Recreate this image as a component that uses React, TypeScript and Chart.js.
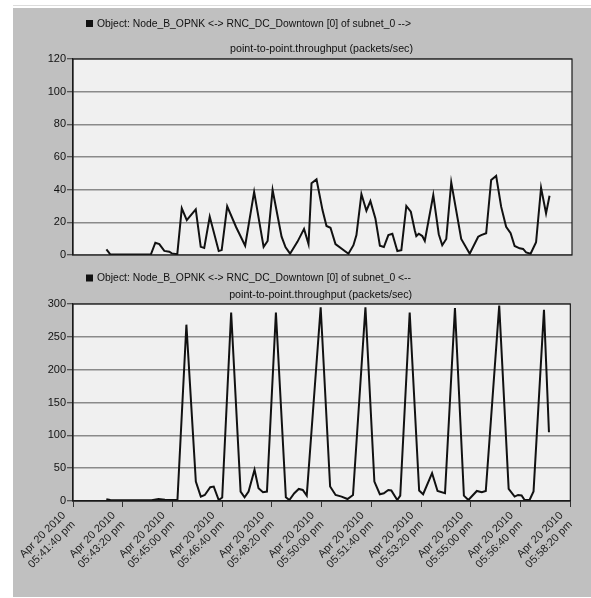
import React, { useEffect, useRef } from "react";
import { Chart, registerables } from "chart.js";

Chart.register(...registerables);

// Seconds elapsed since Apr 20 2010 05:41:40 pm
const xTickSeconds = [0, 100, 200, 300, 400, 500, 600, 700, 800, 900, 1000];
const xTickLabels = [
  ["Apr 20 2010", "05:41:40 pm"],
  ["Apr 20 2010", "05:43:20 pm"],
  ["Apr 20 2010", "05:45:00 pm"],
  ["Apr 20 2010", "05:46:40 pm"],
  ["Apr 20 2010", "05:48:20 pm"],
  ["Apr 20 2010", "05:50:00 pm"],
  ["Apr 20 2010", "05:51:40 pm"],
  ["Apr 20 2010", "05:53:20 pm"],
  ["Apr 20 2010", "05:55:00 pm"],
  ["Apr 20 2010", "05:56:40 pm"],
  ["Apr 20 2010", "05:58:20 pm"],
];

const topTicks = [0, 20, 40, 60, 80, 100, 120];
const bottomTicks = [0, 50, 100, 150, 200, 250, 300];

const topTitle1 = "Object: Node_B_OPNK <-> RNC_DC_Downtown [0] of subnet_0 -->";
const bottomTitle1 = "Object: Node_B_OPNK <-> RNC_DC_Downtown [0] of subnet_0 <--";
const statTitle = "point-to-point.throughput (packets/sec)";

// upstream (-->) series
const topTimes = [
  67, 75, 156, 165, 173, 183, 193, 198, 209, 218, 228, 246, 256, 263, 274, 292, 298, 309, 327,
  345, 363, 382, 390, 400, 418, 426, 435, 450, 463, 472, 478, 488, 500, 508, 516, 526, 552,
  562, 568, 578, 588, 596, 606, 615, 623, 632, 640, 650, 658, 668, 677, 685, 688, 693, 700,
  705, 722, 733, 740, 748, 758, 778, 795, 812, 818, 828, 838, 848, 858, 868, 877, 885, 895,
  902, 908, 917, 928, 938, 948, 955,
];
const topValues = [
  3.5, 0.3, 0.3, 7.5, 6.7, 2.5, 2, 1, 0.5, 28.6, 21.4, 28, 5, 4.3, 23.5, 2.4, 3, 29.8, 17,
  5.7, 38.6, 5, 8.6, 39.8, 11.2, 4.7, 0.8, 8.2, 16, 6.7, 43.9, 46.3, 27.5, 17.8, 16.7, 6.7, 0.8,
  6, 12.2, 37.3, 27.1, 33, 22.4, 5.7, 4.9, 12.2, 13, 2.4, 3, 30, 26.5, 15, 11.6, 13, 11.6,
  8.6, 36.7, 12.7, 6, 9.8, 44.5, 9.8, 0.8, 11.2, 12.2, 13.3, 45.9, 48.4, 29.6, 17.3, 13.3, 5.5, 4.1,
  3.7, 1.6, 0.8, 7.8, 41.2, 25.5, 36.3,
];

// downstream (<--) series
const bottomTimes = [
  67, 75, 158, 172, 185, 210, 228, 247, 257, 265, 276, 283, 293, 300, 318, 337, 345, 353, 365,
  373, 382, 390, 408, 428, 435, 445, 454, 462, 470, 498, 517, 528, 540, 552, 563, 588, 606,
  617, 625, 634, 640, 652, 658, 677, 696, 704, 722, 733, 748, 768, 786, 795, 812, 822, 830,
  857, 876, 888, 895, 902, 908, 918, 926, 947, 957,
];
const bottomValues = [
  2.6, 1.5, 1, 3, 2, 1.5, 268.5, 29.6, 6.7, 9.2, 21, 22, 1.5, 5.2, 287, 14.4, 5.7, 14.4, 47.5,
  19.4, 13.3, 14.4, 287, 5.7, 1.5, 11.8, 18.4, 16.8, 8.2, 295, 22, 9.2, 6.7, 3, 9.2, 295, 29.6,
  10.3, 11.8, 16.8, 16, 1.5, 8.2, 287, 16, 10.3, 42.4, 15.3, 11.8, 294, 8.2, 1.5, 15.3, 13.3, 15.3,
  297.5, 18.4, 6.7, 9.2, 8.5, 1.5, 1.5, 14.4, 291, 104.6,
];

const FONT = '"Liberation Sans", Arial, Helvetica, sans-serif';

const framePlugin = {
  id: "frame",
  beforeDraw(chart: any) {
    const { ctx, chartArea } = chart;
    const { left, top, right, bottom } = chartArea;
    ctx.save();
    ctx.fillStyle = "#f0f0f0";
    ctx.fillRect(left, top, right - left, bottom - top);
    ctx.restore();
  },
  afterDraw(chart: any, _args: any, opts: any) {
    const { ctx, chartArea } = chart;
    const { left, top, right, bottom } = chartArea;
    ctx.save();
    ctx.strokeStyle = "#1a1a1a";
    ctx.lineWidth = 1.2;
    ctx.strokeRect(left, top, right - left, bottom - top);
    // titles
    ctx.fillStyle = "#111";
    ctx.font = `11px ${FONT}`;
    ctx.textBaseline = "middle";
    ctx.fillRect(left + 13, opts.sqY, 7, 7);
    ctx.textAlign = "left";
    ctx.fillText(opts.line1, left + 24, opts.y1, 314);
    ctx.textAlign = "center";
    ctx.fillText(opts.line2, (left + right) / 2 - 1, opts.y2, 183);
    ctx.restore();
  },
};

function yAxis(ticks: number[]) {
  return {
    min: ticks[0],
    max: ticks[ticks.length - 1],
    afterBuildTicks: (s: any) => {
      s.ticks = ticks.map((v) => ({ value: v }));
    },
    afterFit: (s: any) => {
      s.width = 60;
    },
    grid: { color: "#8a8a8a", lineWidth: 1.5, tickLength: 6, tickColor: "#333", tickWidth: 1 },
    border: { display: true, color: "#1a1a1a", width: 1.2 },
    ticks: { color: "#111", font: { family: FONT, size: 11 }, padding: 1 },
  };
}

function lineDataset(times: number[], values: number[]) {
  return {
    data: times.map((t, i) => ({ x: t, y: values[i] })),
    borderColor: "#111",
    borderWidth: 2,
    pointRadius: 0,
    fill: false,
    tension: 0,
  };
}

export default function App() {
  const topRef = useRef<HTMLCanvasElement>(null);
  const botRef = useRef<HTMLCanvasElement>(null);

  useEffect(() => {
    const top = new Chart(topRef.current as HTMLCanvasElement, {
      type: "line",
      data: { datasets: [lineDataset(topTimes, topValues) as any] },
      plugins: [framePlugin as any],
      options: {
        responsive: false,
        animation: false,
        layout: { padding: { top: 51, right: 19, bottom: 8, left: 0 } },
        plugins: {
          legend: { display: false },
          tooltip: { enabled: false },
          frame: { line1: topTitle1, line2: statTitle, y1: 15.5, y2: 41, sqY: 12 },
        } as any,
        scales: {
          x: { type: "linear", display: false, min: xTickSeconds[0], max: xTickSeconds[xTickSeconds.length - 1] },
          y: yAxis(topTicks) as any,
        },
      },
    });

    const bottom = new Chart(botRef.current as HTMLCanvasElement, {
      type: "line",
      data: { datasets: [lineDataset(bottomTimes, bottomValues) as any] },
      plugins: [framePlugin as any],
      options: {
        responsive: false,
        animation: false,
        layout: { padding: { top: 41, right: 19, bottom: 0, left: 0 } },
        plugins: {
          legend: { display: false },
          tooltip: { enabled: false },
          frame: { line1: bottomTitle1, line2: statTitle, y1: 15, y2: 32, sqY: 11.5 },
        } as any,
        scales: {
          x: {
            type: "linear",
            min: xTickSeconds[0],
            max: xTickSeconds[xTickSeconds.length - 1],
            afterBuildTicks: (s: any) => {
              s.ticks = xTickSeconds.map((v) => ({ value: v }));
            },
            afterFit: (s: any) => {
              s.height = 96;
            },
            grid: { drawOnChartArea: false, drawTicks: true, tickLength: 6, tickColor: "#333", tickWidth: 1 },
            border: { display: true, color: "#1a1a1a", width: 1.2 },
            ticks: {
              autoSkip: false,
              minRotation: 45,
              maxRotation: 45,
              padding: 2,
              labelOffset: -9,
              color: "#222",
              font: { family: FONT, size: 11 },
              callback: (_v: any, i: number) => xTickLabels[i],
            },
          } as any,
          y: yAxis(bottomTicks) as any,
        },
      },
    });

    return () => {
      top.destroy();
      bottom.destroy();
    };
  }, []);

  return (
    <div
      style={{
        position: "fixed",
        left: 0,
        top: 0,
        width: 591,
        height: 598,
        background: "#ffffff",
        overflow: "hidden",
      }}
    >
      <div style={{ position: "absolute", left: 13, top: 5, width: 578, height: 1, background: "#dcdcdc" }} />
      <div style={{ position: "absolute", left: 13, top: 8, width: 578, height: 589, background: "#c0c0c0" }} />
      <canvas
        ref={topRef}
        width={578}
        height={255}
        style={{ position: "absolute", left: 13, top: 8, width: 578, height: 255 }}
      />
      <canvas
        ref={botRef}
        width={578}
        height={334}
        style={{ position: "absolute", left: 13, top: 263, width: 578, height: 334 }}
      />
    </div>
  );
}
